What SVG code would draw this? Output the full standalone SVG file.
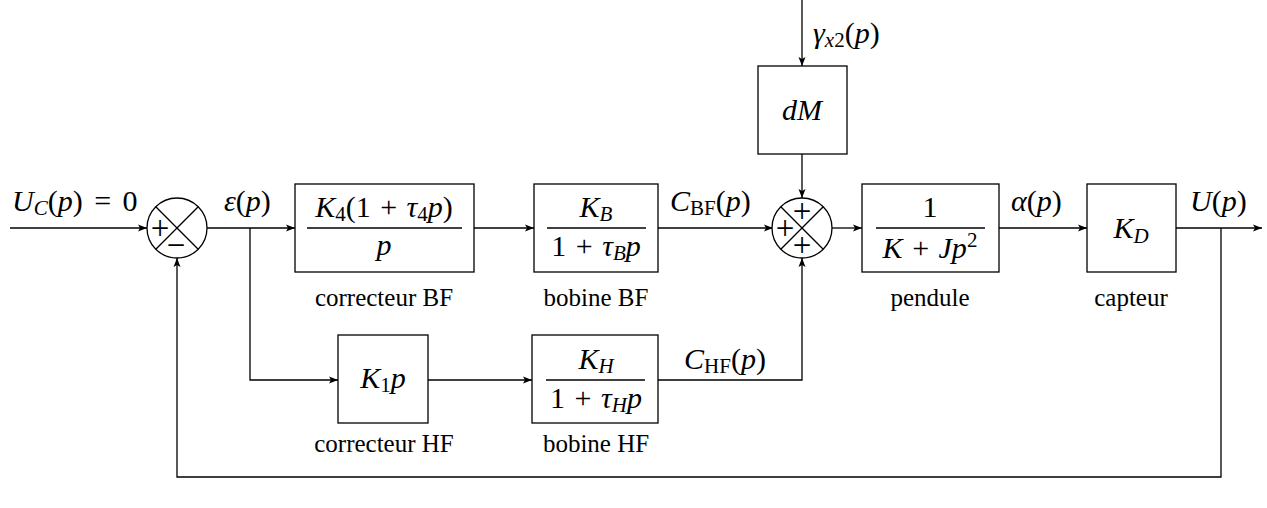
<svg xmlns="http://www.w3.org/2000/svg" width="1267" height="508" viewBox="0 0 1267 508">
<defs>
<marker id="ar" markerWidth="10" markerHeight="8" refX="9" refY="4" orient="auto" markerUnits="userSpaceOnUse">
<path d="M0,0.5 L9,4 L0,7.5 L2,4 Z" fill="#000"/>
</marker>
<style>
.ln{stroke:#000;stroke-width:1.3;fill:none}
.bx{fill:#fff;stroke:#000;stroke-width:1.3}
.bar{stroke:#000;stroke-width:1.3}
text{font-family:"Liberation Serif","DejaVu Serif",serif;font-size:30px;fill:#000}
.i{font-style:italic}
.m{text-anchor:middle}
.s{font-size:21px}
.lb{font-size:25px}
.sg{font-size:33px}
</style>
</defs>
<rect width="1267" height="508" fill="#fff"/>

<g id="connectors">
<line class="ln" x1="10" y1="228" x2="147" y2="228" marker-end="url(#ar)"/>
<line class="ln" x1="207" y1="228" x2="295" y2="228" marker-end="url(#ar)"/>
<polyline class="ln" points="250,228 250,380 338,380" marker-end="url(#ar)"/>
<line class="ln" x1="474" y1="228" x2="534" y2="228" marker-end="url(#ar)"/>
<line class="ln" x1="658" y1="228" x2="773" y2="228" marker-end="url(#ar)"/>
<line class="ln" x1="428" y1="380" x2="532" y2="380" marker-end="url(#ar)"/>
<polyline class="ln" points="658,380 802,380 802,258" marker-end="url(#ar)"/>
<line class="ln" x1="802" y1="0" x2="802" y2="66" marker-end="url(#ar)"/>
<line class="ln" x1="802" y1="154" x2="802" y2="198" marker-end="url(#ar)"/>
<line class="ln" x1="832" y1="228" x2="862" y2="228" marker-end="url(#ar)"/>
<line class="ln" x1="999" y1="228" x2="1087" y2="228" marker-end="url(#ar)"/>
<line class="ln" x1="1176" y1="228" x2="1262" y2="228" marker-end="url(#ar)"/>
<polyline class="ln" points="1221,228 1221,477 177,477 177,258" marker-end="url(#ar)"/>
</g>

<g id="sum1">
<circle cx="177" cy="228" r="30" class="bx"/>
<line class="bar" x1="155.8" y1="206.8" x2="198.2" y2="249.2"/>
<line class="bar" x1="198.2" y1="206.8" x2="155.8" y2="249.2"/>
<text x="160" y="239" class="m sg">+</text>
<text x="176" y="256" class="m sg">−</text>
</g>

<g id="correcteurBF">
<rect x="295" y="184" width="179" height="88" class="bx"/>
<line class="bar" x1="307" y1="228" x2="462" y2="228"/>
<text x="384" y="217" class="m"><tspan class="i">K</tspan><tspan class="s" dy="4">4</tspan><tspan dy="-4">(1 </tspan><tspan dx="2">+</tspan><tspan dx="2"> </tspan><tspan class="i">τ</tspan><tspan class="s" dy="4">4</tspan><tspan class="i" dy="-4">p</tspan>)</text>
<text x="384" y="255" class="m i">p</text>
<text x="384" y="306" class="m lb">correcteur BF</text>
</g>

<g id="bobineBF">
<rect x="534" y="184" width="124" height="88" class="bx"/>
<line class="bar" x1="547" y1="228" x2="646" y2="228"/>
<text x="596" y="217" class="m"><tspan class="i">K</tspan><tspan class="s i" dy="4">B</tspan></text>
<text x="596" y="256" class="m">1 <tspan dx="2">+</tspan><tspan dx="2"> </tspan><tspan class="i">τ</tspan><tspan class="s i" dy="4">B</tspan><tspan class="i" dy="-4">p</tspan></text>
<text x="596" y="306" class="m lb">bobine BF</text>
</g>

<g id="dM">
<rect x="758" y="66" width="89" height="88" class="bx"/>
<text x="802" y="120" class="m i">dM</text>
</g>

<g id="sum2">
<circle cx="802" cy="228" r="30" class="bx"/>
<line class="bar" x1="780.8" y1="206.8" x2="823.2" y2="249.2"/>
<line class="bar" x1="823.2" y1="206.8" x2="780.8" y2="249.2"/>
<text x="802" y="222" class="m sg">+</text>
<text x="785" y="239" class="m sg">+</text>
<text x="802" y="256" class="m sg">+</text>
</g>

<g id="pendule">
<rect x="862" y="184" width="137" height="88" class="bx"/>
<line class="bar" x1="876" y1="228" x2="985" y2="228"/>
<text x="930" y="217" class="m">1</text>
<text x="930" y="258" class="m"><tspan class="i">K</tspan> <tspan dx="2">+</tspan><tspan dx="2"> </tspan><tspan class="i">Jp</tspan><tspan class="s" dy="-11">2</tspan></text>
<text x="930" y="306" class="m lb">pendule</text>
</g>

<g id="capteur">
<rect x="1087" y="184" width="89" height="88" class="bx"/>
<text x="1131" y="238" class="m"><tspan class="i">K</tspan><tspan class="s i" dy="5">D</tspan></text>
<text x="1131" y="306" class="m lb">capteur</text>
</g>

<g id="correcteurHF">
<rect x="338" y="335" width="90" height="88" class="bx"/>
<text x="383" y="388" class="m"><tspan class="i">K</tspan><tspan class="s" dy="4">1</tspan><tspan class="i" dy="-4">p</tspan></text>
<text x="384" y="452" class="m lb">correcteur HF</text>
</g>

<g id="bobineHF">
<rect x="532" y="335" width="126" height="88" class="bx"/>
<line class="bar" x1="546" y1="380" x2="645" y2="380"/>
<text x="596" y="369" class="m"><tspan class="i">K</tspan><tspan class="s i" dy="4">H</tspan></text>
<text x="596" y="408" class="m">1 <tspan dx="2">+</tspan><tspan dx="2"> </tspan><tspan class="i">τ</tspan><tspan class="s i" dy="4">H</tspan><tspan class="i" dy="-4">p</tspan></text>
<text x="596" y="452" class="m lb">bobine HF</text>
</g>

<g id="labels">
<text x="12" y="211"><tspan class="i">U</tspan><tspan class="s i" dy="4">C</tspan><tspan dy="-4">(</tspan><tspan class="i">p</tspan>) <tspan dx="4">=</tspan><tspan dx="4"> 0</tspan></text>
<text x="224" y="211"><tspan class="i">ε</tspan>(<tspan class="i">p</tspan>)</text>
<text x="670" y="211"><tspan class="i">C</tspan><tspan class="s" dy="4">BF</tspan><tspan dy="-4">(</tspan><tspan class="i">p</tspan>)</text>
<text x="684" y="369"><tspan class="i">C</tspan><tspan class="s" dy="4">HF</tspan><tspan dy="-4">(</tspan><tspan class="i">p</tspan>)</text>
<text x="813" y="43"><tspan class="i">γ</tspan><tspan class="s" dy="4"><tspan class="i">x</tspan>2</tspan><tspan dy="-4">(</tspan><tspan class="i">p</tspan>)</text>
<text x="1011" y="211"><tspan class="i">α</tspan>(<tspan class="i">p</tspan>)</text>
<text x="1190" y="211"><tspan class="i">U</tspan>(<tspan class="i">p</tspan>)</text>
</g>
</svg>
